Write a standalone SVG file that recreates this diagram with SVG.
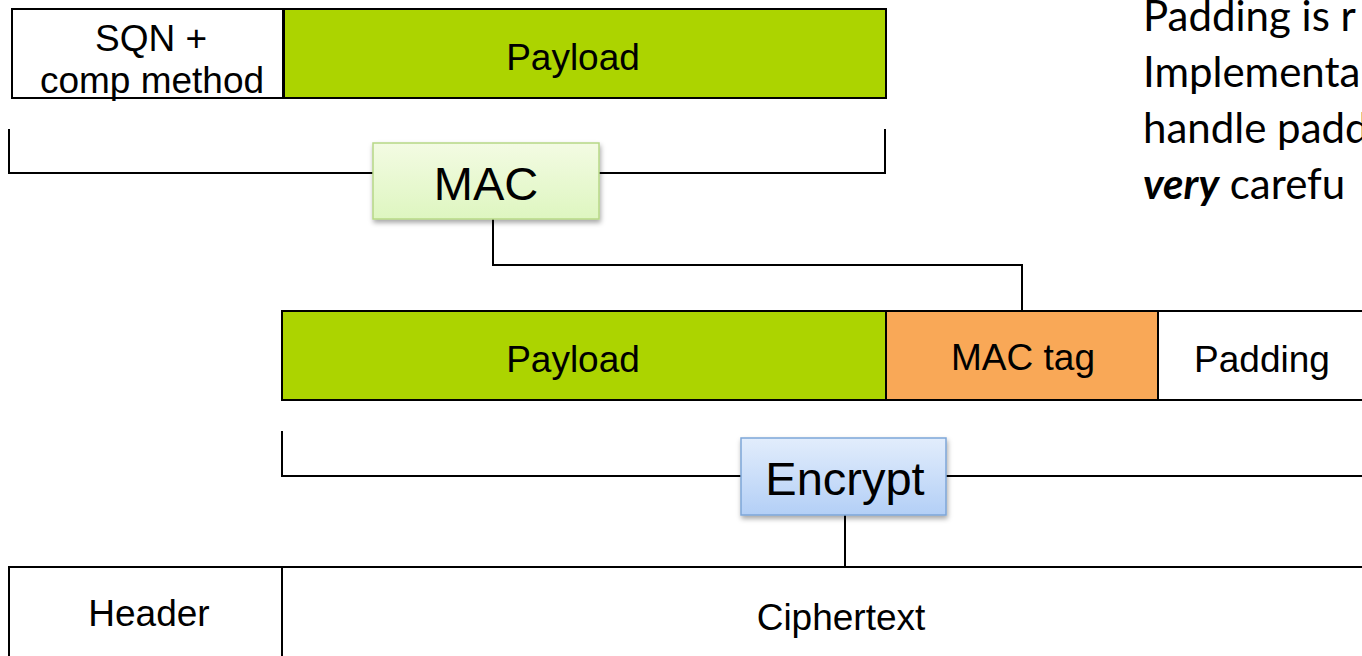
<svg xmlns="http://www.w3.org/2000/svg" width="1362" height="656" viewBox="0 0 1362 656">
<style>
.box{stroke:#000;stroke-width:2}
.lbl{font-family:"Liberation Sans",Arial,sans-serif;font-size:37px;fill:#000;text-anchor:middle}
.big{font-family:"Liberation Sans",Arial,sans-serif;font-size:47px;fill:#000;text-anchor:middle}
.note{font-family:Lato,"Open Sans",sans-serif;font-size:42px;fill:#000}
.wire{fill:none;stroke:#000;stroke-width:2}
</style>
<defs>
<linearGradient id="gGreen" x1="0" y1="0" x2="0" y2="1">
<stop offset="0" stop-color="#f3fbe3"/><stop offset="1" stop-color="#def6c0"/>
</linearGradient>
<linearGradient id="gBlue" x1="0" y1="0" x2="0" y2="1">
<stop offset="0" stop-color="#e2edfc"/><stop offset="1" stop-color="#b3cff6"/>
</linearGradient>
<filter id="sh" x="-10%" y="-10%" width="130%" height="140%">
<feDropShadow dx="1" dy="3" stdDeviation="2.5" flood-color="#000" flood-opacity="0.35"/>
</filter>
</defs>
<rect width="1362" height="656" fill="#fff"/>

<g id="connectors">
<polyline class="wire" points="9,129 9,173 373,173"/>
<polyline class="wire" points="599,173 885,173 885,129"/>
<polyline class="wire" points="493,219 493,265 1022,265 1022,310"/>
<polyline class="wire" points="282,431 282,476 741,476"/>
<polyline class="wire" points="946,476 1362,476"/>
<line class="wire" x1="845" y1="515" x2="845" y2="567"/>
</g>

<g id="sqn">
<rect class="box" x="12" y="9" width="271" height="89" fill="#fff"/>
<text class="lbl" x="151" y="51">SQN +</text>
<text class="lbl" x="152" y="93">comp method</text>
</g>
<g id="payload1">
<rect class="box" x="284" y="9" width="602" height="89" fill="#acd400"/>
<text class="lbl" x="573" y="70">Payload</text>
</g>

<g id="mac">
<rect x="373" y="143" width="226" height="76" fill="url(#gGreen)" stroke="#b7d886" stroke-width="1.5" filter="url(#sh)"/>
<text class="big" x="486" y="200">MAC</text>
</g>

<g id="payload2">
<rect class="box" x="282" y="311" width="604" height="89" fill="#acd400"/>
<text class="lbl" x="573" y="372">Payload</text>
</g>
<g id="mactag">
<rect class="box" x="886" y="311" width="272" height="89" fill="#f9a857"/>
<text class="lbl" x="1023" y="370">MAC tag</text>
</g>
<g id="padding">
<rect class="box" x="1158" y="311" width="220" height="89" fill="#fff"/>
<text class="lbl" x="1262" y="372">Padding</text>
</g>

<g id="encrypt">
<rect x="741" y="438" width="205" height="77" fill="url(#gBlue)" stroke="#7ea6d8" stroke-width="1.5" filter="url(#sh)"/>
<text class="big" x="845" y="495">Encrypt</text>
</g>

<g id="header">
<rect class="box" x="9" y="567" width="273" height="110" fill="#fff"/>
<text class="lbl" x="149" y="626">Header</text>
</g>
<g id="ciphertext">
<rect class="box" x="282" y="567" width="1100" height="110" fill="#fff"/>
<text class="lbl" x="841" y="630">Ciphertext</text>
</g>

<g id="note">
<text class="note" x="1143" y="31">Padding is r</text>
<text class="note" x="1143" y="87">Implementa</text>
<text class="note" x="1143" y="143">handle padd</text>
<text class="note" x="1143" y="199"><tspan font-weight="bold" font-style="italic">very</tspan> carefu</text>
</g>
</svg>
